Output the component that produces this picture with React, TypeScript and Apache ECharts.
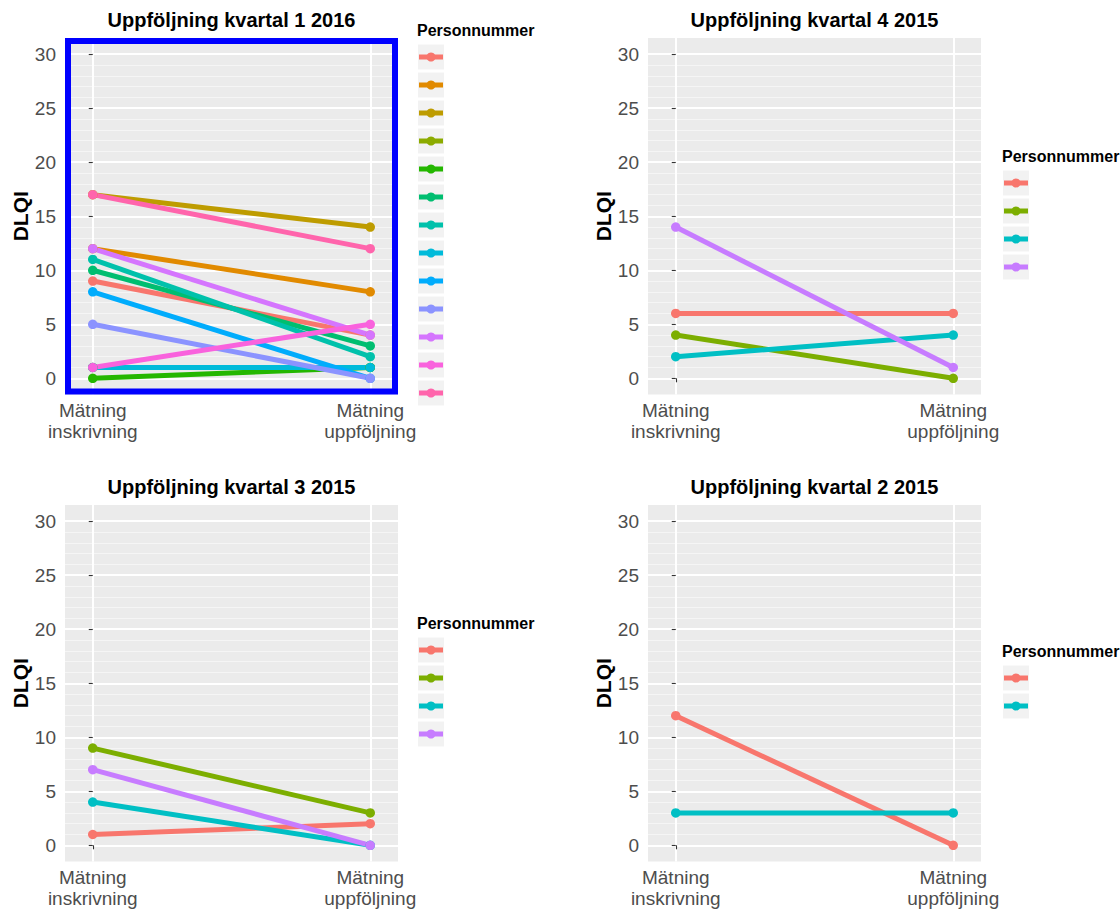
import { useEffect, useRef } from "react";
import * as echarts from "echarts";

// Axis texts and tick values
const xCategories = ["Mätning\ninskrivning", "Mätning\nuppföljning"];
const yMajorTicks = [0, 5, 10, 15, 20, 25, 30];
const yMinorTicks = [1, 2, 3, 4, 6, 7, 8, 9, 11, 12, 13, 14, 16, 17, 18, 19, 21, 22, 23, 24, 26, 27, 28, 29];
const yAxisTitle = "DLQI";
const legendTitle = "Personnummer";

const panelTitles = [
  "Uppföljning kvartal 1 2016",
  "Uppföljning kvartal 4 2015",
  "Uppföljning kvartal 3 2015",
  "Uppföljning kvartal 2 2015",
];

// DLQI per person: value at inskrivning and at uppföljning
const q1y2016Start = [9, 12, 17, 1, 0, 10, 11, 1, 8, 5, 12, 1, 17];
const q1y2016End = [4, 8, 14, 1, 1, 3, 2, 1, 0, 0, 4, 5, 12];
const q4y2015Start = [6, 4, 2, 14];
const q4y2015End = [6, 0, 4, 1];
const q3y2015Start = [1, 9, 4, 7];
const q3y2015End = [2, 3, 0, 0];
const q2y2015Start = [12, 3];
const q2y2015End = [0, 3];

// ggplot-style hue palettes
const hue13 = [
  "#F8766D", "#E18A00", "#BE9C00", "#8CAB00", "#24B700", "#00BE70", "#00C1AB",
  "#00BBDA", "#00ACFC", "#8B93FF", "#D575FE", "#F962DD", "#FF65AC",
];
const hue4 = ["#F8766D", "#7CAE00", "#00BFC4", "#C77CFF"];
const hue2 = ["#F8766D", "#00BFC4"];

const FONT = "'Liberation Sans', Arial, Helvetica, sans-serif";

const panels = [
  { title: panelTitles[0], start: q1y2016Start, end: q1y2016End, colors: hue13, col: 0, row: 0, framed: true },
  { title: panelTitles[1], start: q4y2015Start, end: q4y2015End, colors: hue4, col: 1, row: 0, framed: false },
  { title: panelTitles[2], start: q3y2015Start, end: q3y2015End, colors: hue4, col: 0, row: 1, framed: false },
  { title: panelTitles[3], start: q2y2015Start, end: q2y2015End, colors: hue2, col: 1, row: 1, framed: false },
];

// layout of the 2x2 arrangement
const colLeft = [65, 648];
const rowTop = [38, 505];
const panelW = 333;
const panelH = 356.5;
const legendLeft = [417, 1002];
const keyStep = 28;

function buildOption() {
  const grid: any[] = [];
  const xAxis: any[] = [];
  const yAxis: any[] = [];
  const series: any[] = [];
  const graphic: any[] = [];

  panels.forEach((p, i) => {
    const left = colLeft[p.col];
    const top = rowTop[p.row];
    grid.push({
      left,
      top,
      width: panelW,
      height: panelH,
      show: true,
      backgroundColor: "#EBEBEB",
      borderWidth: 0,
      containLabel: false,
    });
    xAxis.push({
      gridIndex: i,
      type: "value",
      min: -0.1,
      max: 1.1,
      axisLine: { show: false },
      axisTick: {
        show: true,
        customValues: [0, 1],
        length: 4,
        lineStyle: { color: "#333333", width: 1.1 },
      },
      axisLabel: {
        customValues: [0, 1],
        formatter: (v: number) => xCategories[Math.round(v)] ?? "",
        color: "#4D4D4D",
        fontSize: 19,
        lineHeight: 21,
        margin: 5,
        fontFamily: FONT,
      },
      splitLine: { show: true, lineStyle: { color: "#FFFFFF", width: 2 } },
    });
    yAxis.push({
      gridIndex: i,
      type: "value",
      min: -1.5,
      max: 31.5,
      name: yAxisTitle,
      nameLocation: "middle",
      nameRotate: 90,
      nameGap: 33,
      nameTextStyle: { fontSize: 21, fontWeight: "bold", color: "#000000", fontFamily: FONT },
      axisLine: { show: false },
      axisTick: {
        show: true,
        customValues: yMajorTicks,
        length: 4,
        lineStyle: { color: "#333333", width: 1.1 },
      },
      axisLabel: {
        customValues: yMajorTicks,
        color: "#4D4D4D",
        fontSize: 19,
        margin: 9,
        fontFamily: FONT,
      },
      splitLine: { show: true, lineStyle: { color: "#FFFFFF", width: 2 } },
    });
    // minor grid lines at every unit
    yAxis.push({
      gridIndex: i,
      type: "value",
      min: -1.5,
      max: 31.5,
      axisLine: { show: false },
      axisTick: { show: false, customValues: yMinorTicks },
      axisLabel: { show: false, customValues: yMinorTicks },
      splitLine: { show: true, lineStyle: { color: "#F5F5F5", width: 1 } },
    });

    p.start.forEach((s, k) => {
      const color = p.colors[k];
      series.push({
        type: "line",
        name: `${p.title} ${k + 1}`,
        xAxisIndex: i,
        yAxisIndex: i * 2,
        data: [
          [0, s],
          [1, p.end[k]],
        ],
        color,
        lineStyle: { color, width: 5 },
        itemStyle: { color },
        symbol: "circle",
        symbolSize: 9.5,
        showSymbol: true,
        silent: true,
        emphasis: { disabled: true },
      });
    });

    // panel title
    graphic.push({
      type: "text",
      x: left + panelW / 2,
      y: top - 18,
      style: {
        text: p.title,
        fill: "#000000",
        fontSize: 20,
        fontWeight: "bold",
        fontFamily: FONT,
        align: "center",
        verticalAlign: "middle",
      },
    });

    // legend: title and keys
    const n = p.start.length;
    const keysMid = top + 187;
    const firstKey = keysMid - ((n - 1) * keyStep) / 2;
    const lx = legendLeft[p.col];
    graphic.push({
      type: "text",
      x: lx,
      y: firstKey - 26.5,
      style: {
        text: legendTitle,
        fill: "#000000",
        fontSize: 16,
        fontWeight: "bold",
        fontFamily: FONT,
        align: "left",
        verticalAlign: "middle",
      },
    });
    p.colors.forEach((color, k) => {
      const cy = firstKey + k * keyStep;
      graphic.push({
        type: "rect",
        shape: { x: lx + 1, y: cy - 12.5, width: 26, height: 25 },
        style: { fill: "#F2F2F2" },
      });
      graphic.push({
        type: "line",
        shape: { x1: lx + 2, y1: cy, x2: lx + 26, y2: cy },
        style: { stroke: color, lineWidth: 5 },
      });
      graphic.push({
        type: "circle",
        shape: { cx: lx + 14, cy, r: 4.5 },
        style: { fill: color },
      });
    });

    if (p.framed) {
      graphic.push({
        type: "rect",
        z: 100,
        shape: { x: left + 3, y: top + 3, width: panelW - 6, height: panelH - 6 },
        style: { fill: "transparent", stroke: "#0000FF", lineWidth: 6 },
      });
    }
  });

  return {
    animation: false,
    backgroundColor: "#FFFFFF",
    textStyle: { fontFamily: FONT },
    grid,
    xAxis,
    yAxis,
    series,
    graphic,
  };
}

export default function App() {
  const ref = useRef<HTMLDivElement>(null);

  useEffect(() => {
    if (!ref.current) return;
    const chart = echarts.init(ref.current, undefined, { renderer: "svg" });
    chart.setOption(buildOption() as any);
    return () => chart.dispose();
  }, []);

  return (
    <div
      ref={ref}
      style={{ position: "fixed", left: 0, top: 0, width: 1120, height: 909, background: "#FFFFFF" }}
    />
  );
}
